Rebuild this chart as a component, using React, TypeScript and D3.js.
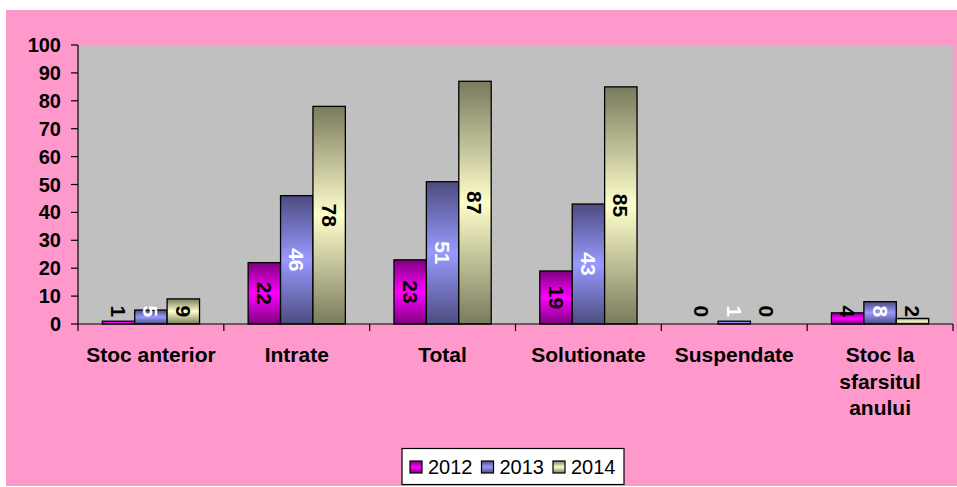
import React from "react";
import * as d3 from "d3";

const categories = ["Stoc anterior", "Intrate", "Total", "Solutionate", "Suspendate", "Stoc la sfarsitul anului"];
const seriesNames = ["2012", "2013", "2014"];
const values2012 = [1, 22, 23, 19, 0, 4];
const values2013 = [5, 46, 51, 43, 1, 8];
const values2014 = [9, 78, 87, 85, 0, 2];
const yTicks = [0, 10, 20, 30, 40, 50, 60, 70, 80, 90, 100];

const seriesValues = [values2012, values2013, values2014];
const seriesLight = ["#FF00FF", "#9999FF", "#FFFFCC"];
const seriesDark = ["#800080", "#4C4C80", "#7A7A5E"];
const labelColors = ["#000000", "#FFFFFF", "#000000"];

const FONT = "'Liberation Sans', Arial, sans-serif";

function measure(text: string, font: string): number {
  const c = document.createElement("canvas");
  const ctx = c.getContext("2d");
  if (!ctx) return text.length * 11;
  ctx.font = font;
  return ctx.measureText(text).width;
}

function wrap(text: string, maxW: number, font: string): string[] {
  const words = text.split(" ");
  const lines: string[] = [];
  let cur = "";
  for (const w of words) {
    const test = cur ? cur + " " + w : w;
    if (cur && measure(test, font) > maxW) {
      lines.push(cur);
      cur = w;
    } else cur = test;
  }
  if (cur) lines.push(cur);
  return lines;
}

export default function App() {
  const W = 957, H = 487;
  const plot = { left: 78, right: 953, top: 45, bottom: 324 };

  const x0 = d3.scaleBand<string>().domain(categories).range([plot.left, plot.right]).padding(0);
  const bw = x0.bandwidth();
  const barW = bw / 4.5;
  const gap = bw - 3 * barW;
  const x1 = d3.scaleBand<string>().domain(seriesNames).range([gap / 2, bw - gap / 2]).padding(0);
  const y = d3.scaleLinear().domain([0, 100]).range([plot.bottom, plot.top]);

  const xFont = `bold 21px ${FONT}`;

  return (
    <svg width={W} height={H} style={{ position: "absolute", left: 0, top: 0, display: "block" }} fontFamily={FONT}>
      <defs>
        {seriesNames.map((s, j) => (
          <linearGradient key={s} id={`g${j}`} x1="0" y1="0" x2="0" y2="1">
            <stop offset="0%" stopColor={seriesDark[j]} />
            <stop offset="50%" stopColor={seriesLight[j]} />
            <stop offset="100%" stopColor={seriesDark[j]} />
          </linearGradient>
        ))}
      </defs>
      <rect x={6} y={10} width={W - 6} height={476} fill="#FF99CC" />
      <rect x={plot.left} y={plot.top} width={plot.right - plot.left} height={plot.bottom - plot.top} fill="#C0C0C0" />

      {/* bars */}
      {categories.map((c, i) =>
        seriesNames.map((s, j) => {
          const v = seriesValues[j][i];
          const bx = (x0(c) as number) + (x1(s) as number);
          const by = y(v);
          const h = y(0) - by;
          if (v <= 0) return null;
          return (
            <rect key={c + s} x={bx} y={by} width={x1.bandwidth()} height={h}
              fill={`url(#g${j})`} stroke="#000" strokeWidth={1.3} />
          );
        })
      )}

      {/* data labels */}
      {categories.map((c, i) =>
        seriesNames.map((s, j) => {
          const v = seriesValues[j][i];
          const cx = (x0(c) as number) + (x1(s) as number) + x1.bandwidth() / 2;
          const txt = String(v);
          const len = txt.length * 11.5;
          const cy = Math.min((y(v) + y(0)) / 2, y(0) - len / 2 - 7);
          return (
            <text key={"l" + c + s} transform={`translate(${cx},${cy}) rotate(90)`}
              textAnchor="middle" dominantBaseline="central" fontWeight="bold" fontSize={21}
              fill={labelColors[j]}>{txt}</text>
          );
        })
      )}

      {/* axes */}
      <line x1={plot.left} x2={plot.left} y1={plot.top} y2={plot.bottom} stroke="#000" strokeWidth={1.2} />
      <line x1={plot.left} x2={plot.right} y1={plot.bottom} y2={plot.bottom} stroke="#000" strokeWidth={1.2} />
      {yTicks.map(t => (
        <g key={"yt" + t}>
          <line x1={plot.left - 7} x2={plot.left} y1={y(t)} y2={y(t)} stroke="#000" strokeWidth={1.2} />
          <text x={61} y={y(t)} textAnchor="end" dominantBaseline="central" fontWeight="bold" fontSize={20} fill="#000">{t}</text>
        </g>
      ))}
      {[...categories.map(c => x0(c) as number), plot.right].map((xx, k) => (
        <line key={"xt" + k} x1={xx} x2={xx} y1={plot.bottom} y2={plot.bottom + 7} stroke="#000" strokeWidth={1.2} />
      ))}
      {categories.map(c => {
        const lines = wrap(c, bw - 8, xFont);
        const cx = (x0(c) as number) + bw / 2;
        return (
          <text key={"xl" + c} textAnchor="middle" fontWeight="bold" fontSize={21} fill="#000">
            {lines.map((ln, k) => (
              <tspan key={k} x={cx} y={362 + k * 26.5}>{ln}</tspan>
            ))}
          </text>
        );
      })}

      {/* legend */}
      <rect x={402} y={448.5} width={222} height={36} fill="#FFFFFF" stroke="#000" strokeWidth={1.2} />
      {seriesNames.map((s, j) => {
        const lx = 410 + j * 71.5;
        return (
          <g key={"lg" + s}>
            <rect x={lx} y={461} width={12} height={12} fill={`url(#g${j})`} stroke="#000" strokeWidth={1.2} />
            <text x={lx + 18} y={474} fontSize={20} fill="#000">{s}</text>
          </g>
        );
      })}
    </svg>
  );
}
